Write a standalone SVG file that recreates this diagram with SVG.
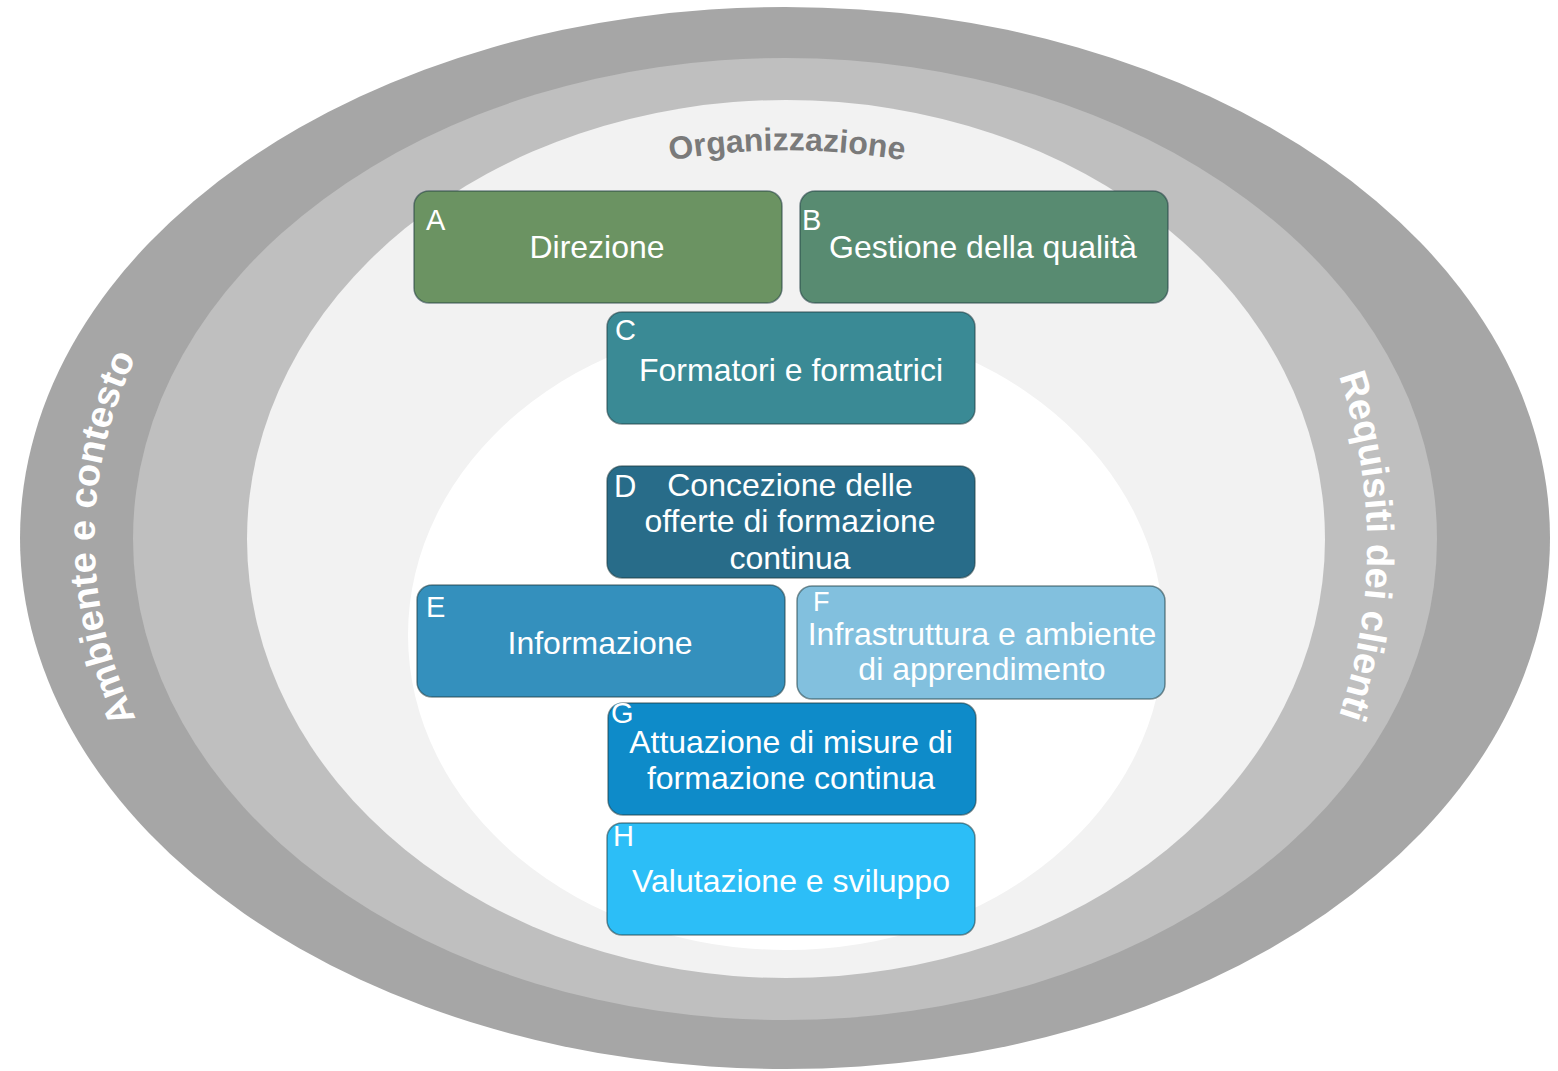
<svg xmlns="http://www.w3.org/2000/svg" width="1558" height="1071" viewBox="0 0 1558 1071">
<style>
.box{stroke:#1e3a40;stroke-opacity:0.55;stroke-width:1.5}
.t{font-family:"Liberation Sans",Arial,sans-serif;font-size:32px;fill:#ffffff;text-anchor:middle}
.l{font-family:"Liberation Sans",Arial,sans-serif;font-size:29px;fill:#ffffff}
.ring{font-family:"Liberation Sans",Arial,sans-serif;font-weight:bold;fill:#ffffff}
</style>
<defs>
<path id="pLeft" d="M 297 913 A 690 530 0 0 1 297 163"/>
<path id="pRight" d="M 1197 156 A 582 552 0 0 1 1197 936"/>
<path id="pTop" d="M 487 219 A 690 690 0 0 1 1087 219"/>
</defs>
<rect width="1558" height="1071" fill="#ffffff"/>
<g id="rings">
<ellipse cx="785" cy="538" rx="765" ry="531" fill="#a6a6a6"/>
<ellipse cx="785" cy="539" rx="652" ry="481" fill="#bfbfbf"/>
<ellipse cx="786" cy="539" rx="539" ry="439" fill="#f2f2f2"/>
<ellipse cx="786" cy="635" rx="378" ry="315" fill="#ffffff"/>
</g>
<g id="ring-labels">
<text class="ring" font-size="38"><textPath href="#pLeft" startOffset="50%" text-anchor="middle">Ambiente e contesto</textPath></text>
<text class="ring" font-size="38"><textPath href="#pRight" startOffset="50%" text-anchor="middle">Requisiti dei clienti</textPath></text>
<text class="ring" font-size="32" style="fill:#7a7a7a"><textPath href="#pTop" startOffset="50%" text-anchor="middle">Organizzazione</textPath></text>
</g>
<g id="connectors"></g>
<g id="nodeA">
<rect class="box" x="414" y="191" width="368" height="112" rx="15" fill="#6b9362"/>
<text class="l" x="426" y="230">A</text>
<text class="t" x="597" y="258">Direzione</text>
</g>
<g id="nodeB">
<rect class="box" x="800" y="191" width="368" height="112" rx="15" fill="#588b71"/>
<text class="l" x="802" y="230">B</text>
<text class="t" x="983" y="258">Gestione della qualità</text>
</g>
<g id="nodeC">
<rect class="box" x="607" y="312" width="368" height="112" rx="15" fill="#3a8a95"/>
<text class="l" x="615" y="340">C</text>
<text class="t" x="791" y="381">Formatori e formatrici</text>
</g>
<g id="nodeD">
<rect class="box" x="607" y="466" width="368" height="112" rx="15" fill="#286c89"/>
<text class="l" x="614" y="497" style="font-size:31px">D</text>
<text class="t" x="790" y="496">Concezione delle</text>
<text class="t" x="790" y="532">offerte di formazione</text>
<text class="t" x="790" y="569">continua</text>
</g>
<g id="nodeE">
<rect class="box" x="417" y="585" width="368" height="112" rx="15" fill="#3490bd"/>
<text class="l" x="426" y="617">E</text>
<text class="t" x="600" y="654">Informazione</text>
</g>
<g id="nodeF">
<rect class="box" x="797" y="586" width="368" height="113" rx="15" fill="#82c0de"/>
<text class="l" x="813" y="611" style="font-size:27px">F</text>
<text class="t" x="982" y="645">Infrastruttura e ambiente</text>
<text class="t" x="982" y="680">di apprendimento</text>
</g>
<g id="nodeG">
<rect class="box" x="608" y="703" width="368" height="112" rx="15" fill="#0e8bc9"/>
<text class="l" x="611" y="723">G</text>
<text class="t" x="791" y="753">Attuazione di misure di</text>
<text class="t" x="791" y="789">formazione continua</text>
</g>
<g id="nodeH">
<rect class="box" x="607" y="823" width="368" height="112" rx="15" fill="#2cbef7"/>
<text class="l" x="613" y="846">H</text>
<text class="t" x="791" y="892">Valutazione e sviluppo</text>
</g>
</svg>
